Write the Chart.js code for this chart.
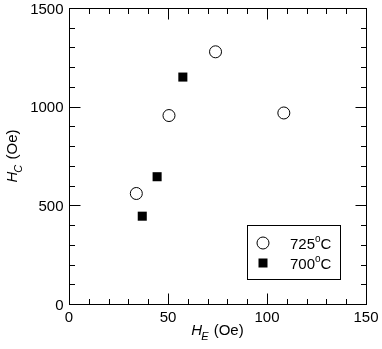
<!DOCTYPE html>
<html>
<head>
<meta charset="utf-8">
<script src="https://cdn.jsdelivr.net/npm/chart.js@4/dist/chart.umd.min.js"></script>
<style>
    html, body { margin: 0; padding: 0; background: #fff; }
    #wrap { width: 382px; height: 349px; }
</style>
</head>
<body>
<div id="wrap"><canvas id="chart" width="382" height="349"></canvas></div>
<script>
// Data
const he725 = [34, 50.5, 74, 108.5];
const hc725 = [560, 955, 1278, 968];
const he700 = [37, 44.5, 57.5];
const hc700 = [445, 645, 1150];

const xTicks = [0, 50, 100, 150];
const yTicks = [0, 500, 1000, 1500];

const FONT = '"Liberation Sans", Arial, sans-serif';

function pts(xs, ys) {
    return xs.map((x, i) => ({ x: x, y: ys[i] }));
}

// Frame, inward ticks on all sides, tick labels, axis titles and legend box
const decorations = {
    id: 'decorations',
    afterDraw(chart) {
        const ctx = chart.ctx;
        const a = chart.chartArea;
        const xs = chart.scales.x, ys = chart.scales.y;
        ctx.save();
        ctx.strokeStyle = '#000';
        ctx.lineWidth = 1;
        const L = Math.round(a.left) + 0.5, R = Math.round(a.right) + 0.5;
        const T = Math.round(a.top) + 0.5, B = Math.round(a.bottom) + 0.5;
        ctx.strokeRect(L, T, R - L, B - T);

        ctx.beginPath();
        for (let v = 0; v <= 150; v += 10) {
            const px = Math.round(xs.getPixelForValue(v)) + 0.5;
            const len = v % 50 === 0 ? 11 : 5.5;
            ctx.moveTo(px, B); ctx.lineTo(px, B - len);
            ctx.moveTo(px, T); ctx.lineTo(px, T + len);
        }
        for (let v = 0; v <= 1500; v += 100) {
            const py = Math.round(ys.getPixelForValue(v)) + 0.5;
            const len = v % 500 === 0 ? 11 : 5.5;
            ctx.moveTo(L, py); ctx.lineTo(L + len, py);
            ctx.moveTo(R, py); ctx.lineTo(R - len, py);
        }
        ctx.stroke();

        ctx.fillStyle = '#000';
        ctx.textBaseline = 'alphabetic';
        ctx.font = '15px ' + FONT;

        // tick labels
        ctx.textAlign = 'center';
        xTicks.forEach(v => ctx.fillText(String(v), xs.getPixelForValue(v), B + 17));
        ctx.textAlign = 'right';
        yTicks.forEach(v => ctx.fillText(String(v), L - 6, ys.getPixelForValue(v) + 5.5));

        // x title: H_E (Oe)
        drawTitle(ctx, 'E', (a.left + a.right) / 2, 335, 0);
        // y title: H_C (Oe)
        drawTitle(ctx, 'C', 17, (a.top + a.bottom) / 2, -Math.PI / 2);

        // legend
        ctx.lineWidth = 1;
        ctx.strokeRect(247.5, 225.5, 93, 54);
        ctx.beginPath();
        ctx.arc(263, 243, 6, 0, Math.PI * 2);
        ctx.fillStyle = '#fff';
        ctx.fill();
        ctx.stroke();
        ctx.fillStyle = '#000';
        ctx.fillRect(258.5, 258.5, 9, 9);
        drawDeg(ctx, '725', 290, 249);
        drawDeg(ctx, '700', 290, 269);
        ctx.restore();
    }
};

function drawTitle(ctx, sub, cx, baseY, rot) {
    ctx.save();
    ctx.translate(cx, baseY);
    ctx.rotate(rot);
    const fMain = 'italic 15px ' + FONT;
    const fSub = 'italic 11px ' + FONT;
    const fRest = '15px ' + FONT;
    ctx.font = fMain; const wH = ctx.measureText('H').width;
    ctx.font = fSub; const wS = ctx.measureText(sub).width;
    ctx.font = fRest; const wR = ctx.measureText(' (Oe)').width;
    let x = -(wH + wS + wR) / 2;
    ctx.textAlign = 'left';
    ctx.font = fMain; ctx.fillText('H', x, 0); x += wH;
    ctx.font = fSub; ctx.fillText(sub, x - 1, 5); x += wS;
    ctx.font = fRest; ctx.fillText(' (Oe)', x, 0);
    ctx.restore();
}

function drawDeg(ctx, num, x, y) {
    ctx.textAlign = 'left';
    ctx.font = '15px ' + FONT;
    ctx.fillText(num, x, y);
    x += ctx.measureText(num).width;
    ctx.font = '10px ' + FONT;
    ctx.fillText('o', x, y - 7);
    x += ctx.measureText('o').width;
    ctx.font = '15px ' + FONT;
    ctx.fillText('C', x, y);
}

new Chart(document.getElementById('chart'), {
    type: 'scatter',
    data: {
        datasets: [{
            label: '725°C',
            data: pts(he725, hc725),
            pointStyle: 'circle',
            pointRadius: 6,
            pointHoverRadius: 6,
            backgroundColor: '#fff',
            borderColor: '#000',
            borderWidth: 1
        }, {
            label: '700°C',
            data: pts(he700, hc700),
            pointStyle: 'rect',
            pointRadius: 6.4,
            pointHoverRadius: 6.4,
            backgroundColor: '#000',
            borderColor: '#000',
            borderWidth: 0
        }]
    },
    options: {
        responsive: false,
        animation: false,
        // plot frame: left 69, top 8, right 366, bottom 304
        layout: { padding: { left: 69, top: 8, right: 16, bottom: 45 } },
        plugins: {
            legend: { display: false },
            tooltip: { enabled: false }
        },
        scales: {
            x: { type: 'linear', min: 0, max: 150, display: false },
            y: { type: 'linear', min: 0, max: 1500, display: false }
        }
    },
    plugins: [decorations]
});
</script>
</body>
</html>
